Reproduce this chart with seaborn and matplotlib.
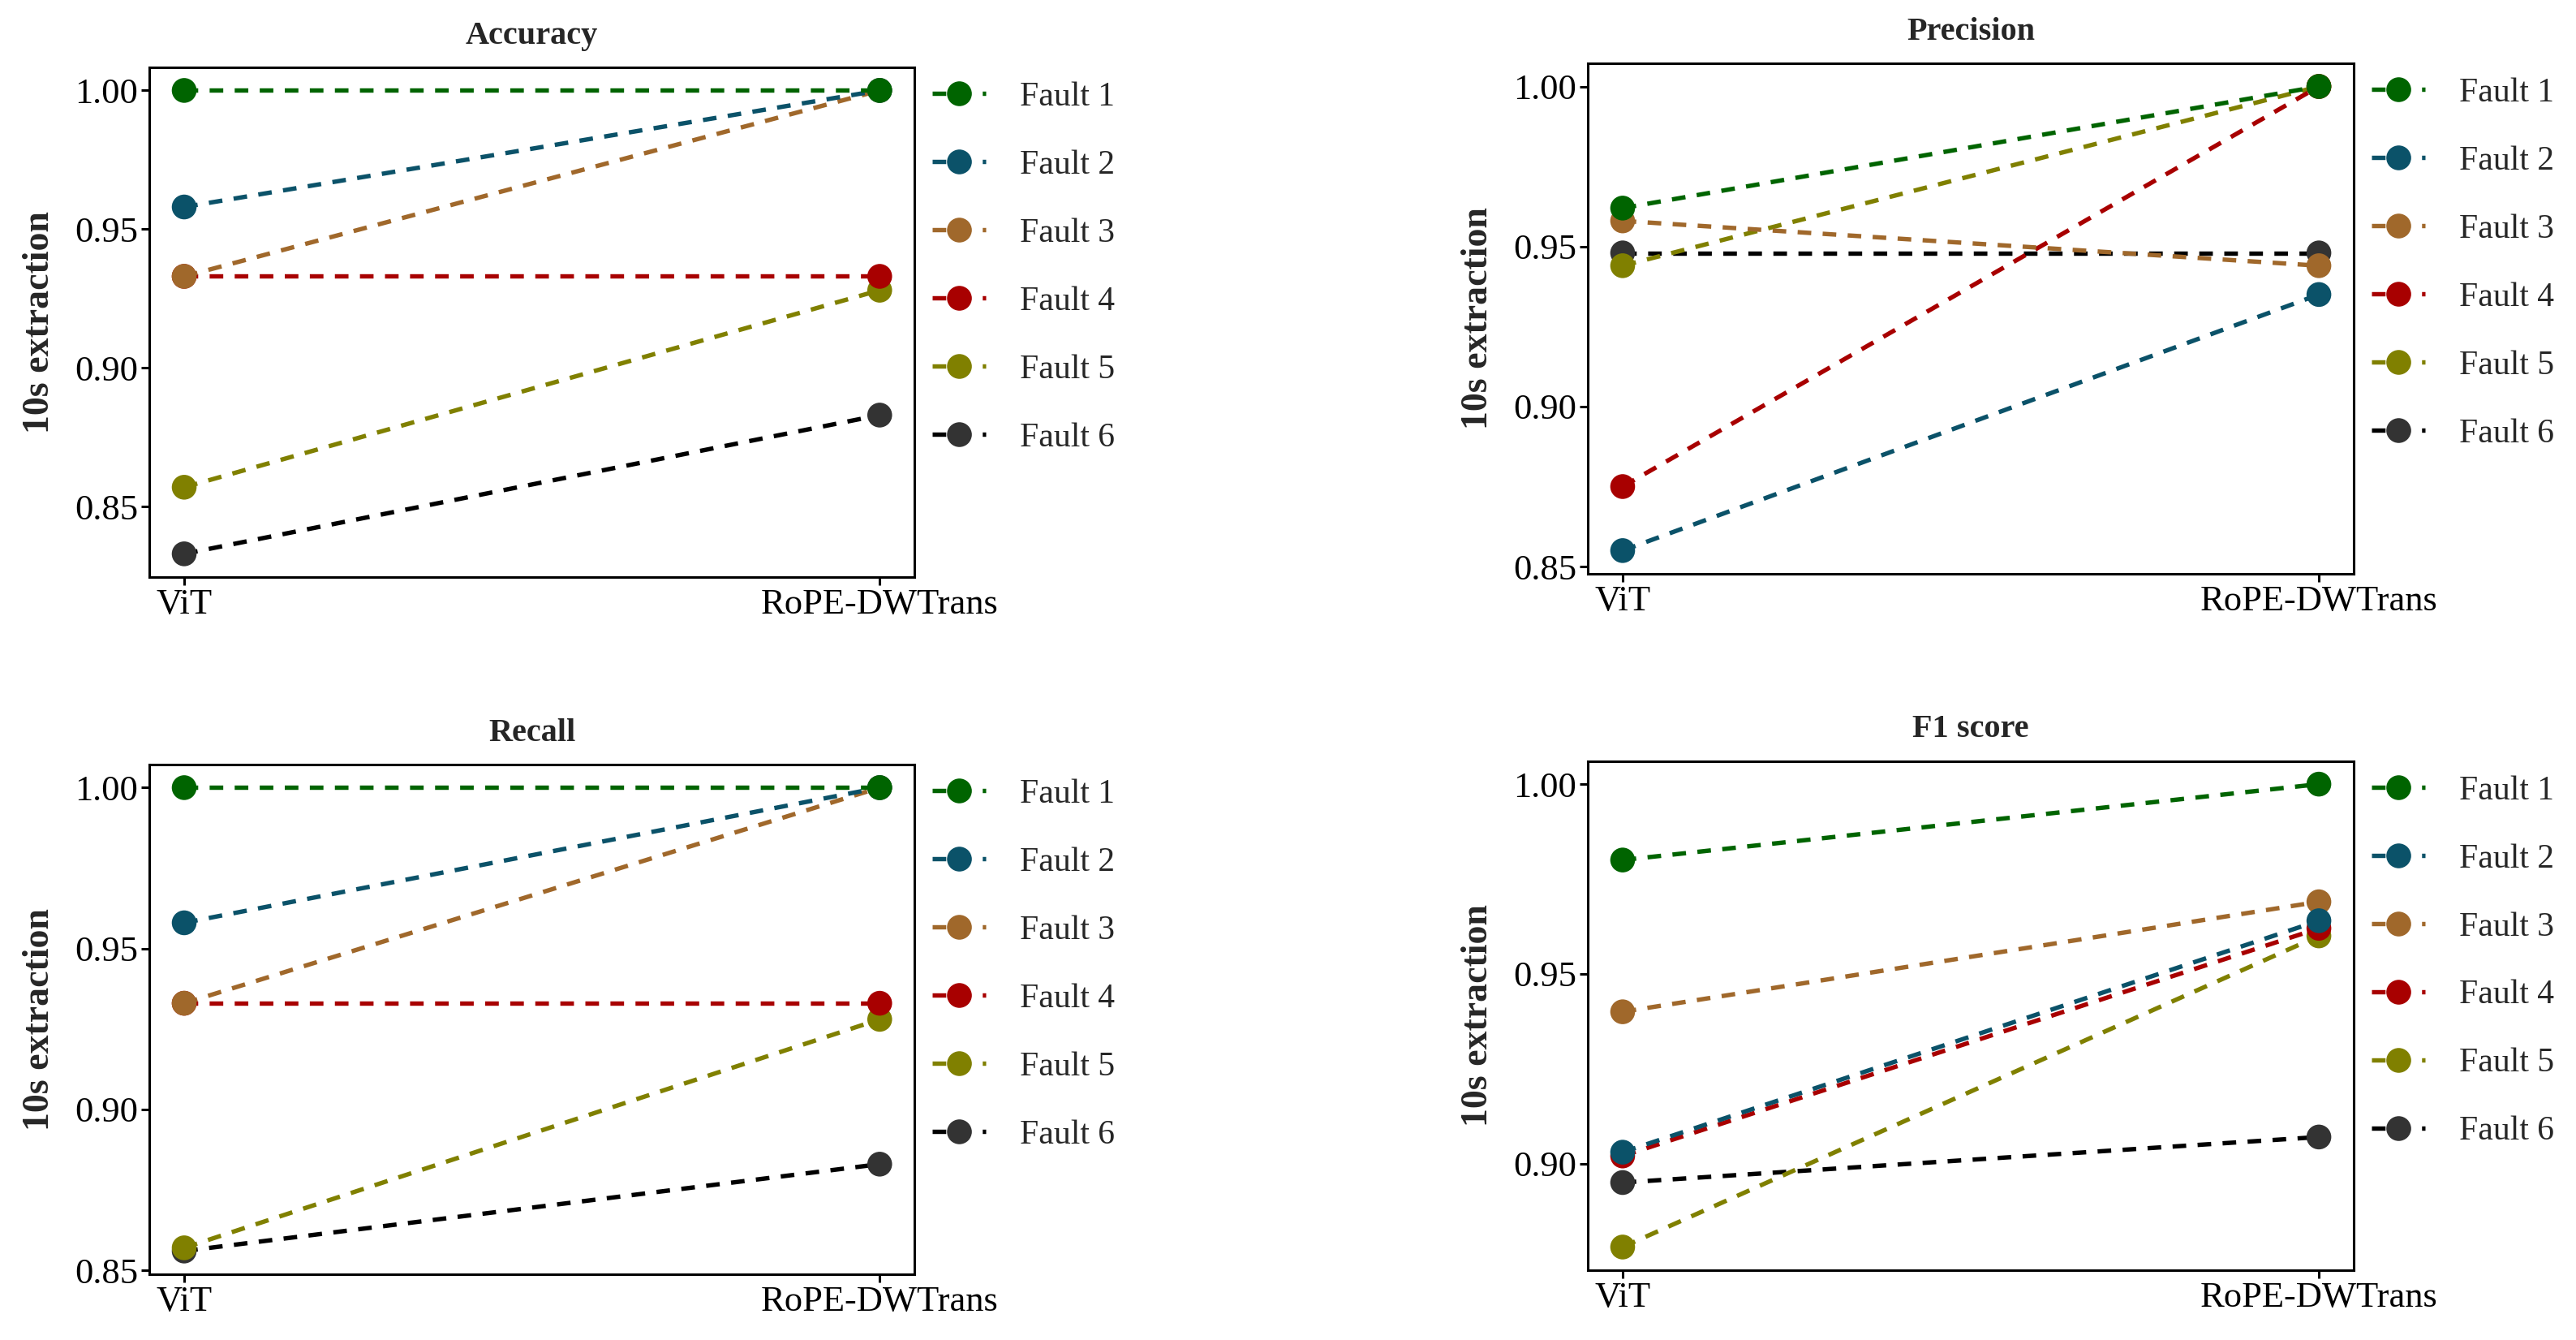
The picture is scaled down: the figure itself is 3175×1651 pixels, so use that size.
import numpy as np
import pandas as pd
import seaborn as sns
import matplotlib.pyplot as plt
from matplotlib.lines import Line2D
from matplotlib.ticker import MultipleLocator, FormatStrFormatter

# Data
models = ['ViT', 'RoPE-DWTrans']
faults = ['Fault 1', 'Fault 2', 'Fault 3', 'Fault 4', 'Fault 5', 'Fault 6']

accuracy_vit = [1.000, 0.958, 0.933, 0.933, 0.857, 0.833]
accuracy_rope = [1.000, 1.000, 1.000, 0.933, 0.928, 0.883]
precision_vit = [0.962, 0.855, 0.958, 0.875, 0.944, 0.948]
precision_rope = [1.000, 0.935, 0.944, 1.000, 1.000, 0.948]
recall_vit = [1.000, 0.958, 0.933, 0.933, 0.857, 0.856]
recall_rope = [1.000, 1.000, 1.000, 0.933, 0.928, 0.883]
f1_vit = [0.980, 0.903, 0.940, 0.902, 0.878, 0.895]
f1_rope = [1.000, 0.964, 0.969, 0.962, 0.960, 0.907]

line_colors = ['#006400', '#0B5269', '#A0682B', '#A80000', '#808000', '#000000']
point_colors = ['#006400', '#0B5269', '#A0682B', '#A80000', '#808000', '#333333']

sns.set_theme(style='ticks')
plt.rcParams['font.family'] = ['Liberation Serif', 'DejaVu Serif']

panels = [('Accuracy', accuracy_vit, accuracy_rope),
          ('Precision', precision_vit, precision_rope),
          ('Recall', recall_vit, recall_rope),
          ('F1 score', f1_vit, f1_rope)]
positions = [[0.058, 0.5694, 0.297, 0.3804],
             [0.6164, 0.5718, 0.2973, 0.381],
             [0.058, 0.0491, 0.297, 0.3804],
             [0.6164, 0.0521, 0.2973, 0.380]]

lw = 3.9
dash = (3.1, 2.6)
msize = 22

fig = plt.figure(figsize=(31.75, 16.51), dpi=100)

for (title, vit, rope), pos in zip(panels, positions):
    ax = fig.add_axes(pos)
    df = pd.DataFrame({'Fault': np.repeat(faults, 2),
                       'x': list(range(len(models))) * len(faults),
                       'Value': np.column_stack([vit, rope]).ravel()})
    # reverse order so Fault 1 ends up on top
    df_rev = df.iloc[::-1].reset_index(drop=True)

    sns.lineplot(data=df, x='x', y='Value', hue='Fault', hue_order=faults[::-1],
                 palette=dict(zip(faults, line_colors)), linewidth=lw,
                 legend=False, sort=False, ax=ax)
    for ln in ax.lines:
        ln.set_linewidth(lw)
        ln.set_dashes(dash)
    sns.scatterplot(data=df_rev, x='x', y='Value', hue='Fault',
                    palette=dict(zip(faults, point_colors)), s=msize ** 2,
                    linewidth=0, legend=False, zorder=3, ax=ax)

    ax.set_xticks(range(len(models)))
    ax.set_xticklabels(models)
    ax.yaxis.set_major_locator(MultipleLocator(0.05))
    ax.yaxis.set_major_formatter(FormatStrFormatter('%.2f'))
    ax.tick_params(axis='both', labelsize=32, length=7, width=2.2,
                   color='black', labelcolor='black', pad=3)
    for sp in ax.spines.values():
        sp.set_linewidth(2.2)
        sp.set_color('black')
    ax.set_xlabel('')
    ax.set_ylabel('10s extraction', fontsize=33, fontweight='bold', labelpad=16)
    ax.set_title(title, fontsize=29, fontweight='bold', pad=21)

    handles = [Line2D([0], [0], color=lc, linewidth=lw, dashes=dash, marker='o',
                      markersize=msize, markerfacecolor=pc, markeredgewidth=0)
               for lc, pc in zip(line_colors, point_colors)]
    ax.legend(handles, faults, loc='upper left', bbox_to_anchor=(1.023, 0.972),
              frameon=False, fontsize=30, handlelength=1.6, handletextpad=1.0,
              labelspacing=1.09, borderpad=0, borderaxespad=0)

fig.savefig('out.png', dpi=100)
